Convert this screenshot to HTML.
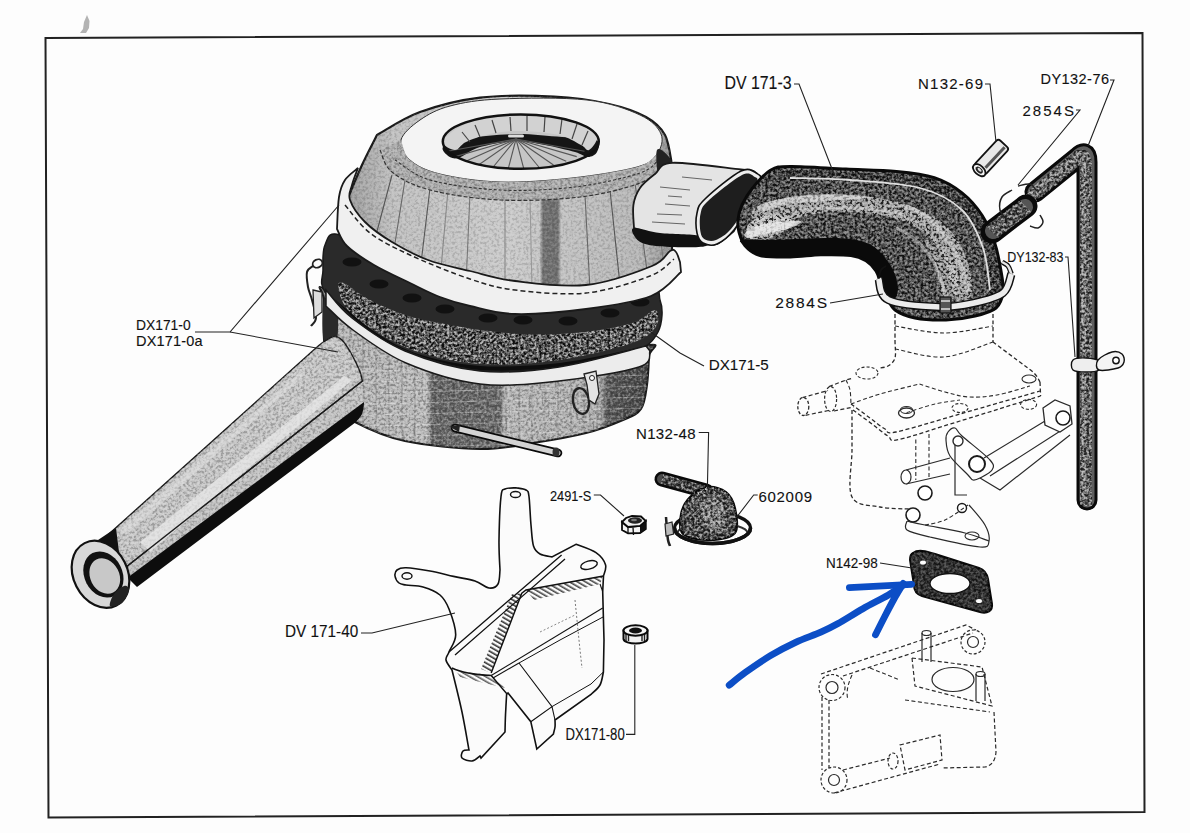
<!DOCTYPE html>
<html><head><meta charset="utf-8"><style>
html,body{margin:0;padding:0;background:#fdfdfd;}
body{width:1190px;height:833px;overflow:hidden;}
svg{display:block;}
text{font-family:"Liberation Sans",sans-serif;fill:#111;stroke:#111;stroke-width:0.12px;}
</style></head><body>
<svg width="1190" height="833" viewBox="0 0 1190 833">
<defs>
<filter id="fB" x="0" y="0" width="1" height="1" color-interpolation-filters="sRGB"><feTurbulence type="fractalNoise" baseFrequency="0.38" numOctaves="2" seed="11"/><feColorMatrix type="matrix" values="0 0 0 0 0  0 0 0 0 0  0 0 0 0 0  5 0 0 0 -2.5"/></filter>
<filter id="fW" x="0" y="0" width="1" height="1" color-interpolation-filters="sRGB"><feTurbulence type="fractalNoise" baseFrequency="0.38" numOctaves="2" seed="11"/><feColorMatrix type="matrix" values="0 0 0 0 1  0 0 0 0 1  0 0 0 0 1  -5 0 0 0 2.5"/></filter>
<pattern id="gB" patternUnits="userSpaceOnUse" width="1190" height="833"><rect width="1190" height="833" filter="url(#fB)"/></pattern>
<pattern id="gW" patternUnits="userSpaceOnUse" width="1190" height="833"><rect width="1190" height="833" filter="url(#fW)"/></pattern>
<pattern id="hat" patternUnits="userSpaceOnUse" width="4" height="4" patternTransform="rotate(-60)"><rect width="4" height="4" fill="#fbfbfb"/><rect width="1.6" height="4" fill="#1a1a1a"/></pattern>
</defs>
<path d="M45.5 38 L1142.5 33 L1144.5 812 L48.5 817.5 Z" fill="none" stroke="#222" stroke-width="2" />
<path d="M80 33 L86 33 L89 28 L89.5 21 L87 15 L84 22 L83 29 Z" fill="#777" opacity="0.55"/>
<linearGradient id="gb" x1="320" y1="0" x2="655" y2="0" gradientUnits="userSpaceOnUse"><stop offset="0" stop-color="#6a6a6a"/><stop offset="0.05" stop-color="#b4b4b4"/><stop offset="0.322" stop-color="#b8b8b8"/><stop offset="0.334" stop-color="#666666"/><stop offset="0.537" stop-color="#6a6a6a"/><stop offset="0.552" stop-color="#b6b6b6"/><stop offset="0.836" stop-color="#acacac"/><stop offset="0.857" stop-color="#585858"/><stop offset="1" stop-color="#464646"/></linearGradient>
<path d="M324 300 C323.7 308.3 323 325.8 324 340 C325 354.2 327 373.7 330 385 C333 396.3 337.8 401.8 342 408 C346.2 414.2 344.5 416.5 355 422 C365.5 427.5 384.2 436.5 405 441 C425.8 445.5 458.7 448.7 480 449 C501.3 449.3 515.3 445.7 533 443 C550.7 440.3 571 436.8 586 433 C601 429.2 613.8 424 623 420 C632.2 416 637 414.8 641 409 C645 403.2 645.7 393.8 647 385 C648.3 376.2 648.7 362.7 649 356 C649.3 349.3 663.8 343 649 345 C634.2 347 588.2 363.8 560 368 C531.8 372.2 505.8 373 480 370 C454.2 367 430.7 363.3 405 350 C379.3 336.7 339.5 298.3 326 290 C312.5 281.7 324.3 291.7 324 300 Z" fill="url(#gb)" stroke="#1a1a1a" stroke-width="2" />
<clipPath id="cbowl"><path d="M324 300 C323.7 308.3 323 325.8 324 340 C325 354.2 327 373.7 330 385 C333 396.3 337.8 401.8 342 408 C346.2 414.2 344.5 416.5 355 422 C365.5 427.5 384.2 436.5 405 441 C425.8 445.5 458.7 448.7 480 449 C501.3 449.3 515.3 445.7 533 443 C550.7 440.3 571 436.8 586 433 C601 429.2 613.8 424 623 420 C632.2 416 637 414.8 641 409 C645 403.2 645.7 393.8 647 385 C648.3 376.2 648.7 362.7 649 356 C649.3 349.3 663.8 343 649 345 C634.2 347 588.2 363.8 560 368 C531.8 372.2 505.8 373 480 370 C454.2 367 430.7 363.3 405 350 C379.3 336.7 339.5 298.3 326 290 C312.5 281.7 324.3 291.7 324 300 Z"/></clipPath>
<g clip-path="url(#cbowl)"><line x1="350" y1="300" x2="350" y2="452" stroke="#555" stroke-width="0.8" opacity="0.45"/><line x1="363" y1="300" x2="363" y2="452" stroke="#555" stroke-width="0.8" opacity="0.45"/><line x1="376" y1="300" x2="376" y2="452" stroke="#555" stroke-width="0.8" opacity="0.45"/><line x1="389" y1="300" x2="389" y2="452" stroke="#555" stroke-width="0.8" opacity="0.45"/><line x1="402" y1="300" x2="402" y2="452" stroke="#555" stroke-width="0.8" opacity="0.45"/><line x1="415" y1="300" x2="415" y2="452" stroke="#555" stroke-width="0.8" opacity="0.45"/><line x1="428" y1="300" x2="428" y2="452" stroke="#555" stroke-width="0.8" opacity="0.45"/><line x1="441" y1="300" x2="441" y2="452" stroke="#555" stroke-width="0.8" opacity="0.45"/><line x1="454" y1="300" x2="454" y2="452" stroke="#555" stroke-width="0.8" opacity="0.45"/><line x1="467" y1="300" x2="467" y2="452" stroke="#555" stroke-width="0.8" opacity="0.45"/><line x1="480" y1="300" x2="480" y2="452" stroke="#555" stroke-width="0.8" opacity="0.45"/><line x1="493" y1="300" x2="493" y2="452" stroke="#555" stroke-width="0.8" opacity="0.45"/><line x1="506" y1="300" x2="506" y2="452" stroke="#555" stroke-width="0.8" opacity="0.45"/><line x1="519" y1="300" x2="519" y2="452" stroke="#555" stroke-width="0.8" opacity="0.45"/><line x1="532" y1="300" x2="532" y2="452" stroke="#555" stroke-width="0.8" opacity="0.45"/><line x1="545" y1="300" x2="545" y2="452" stroke="#555" stroke-width="0.8" opacity="0.45"/><line x1="558" y1="300" x2="558" y2="452" stroke="#555" stroke-width="0.8" opacity="0.45"/><line x1="571" y1="300" x2="571" y2="452" stroke="#555" stroke-width="0.8" opacity="0.45"/><line x1="584" y1="300" x2="584" y2="452" stroke="#555" stroke-width="0.8" opacity="0.45"/><line x1="597" y1="300" x2="597" y2="452" stroke="#555" stroke-width="0.8" opacity="0.45"/><line x1="610" y1="300" x2="610" y2="452" stroke="#555" stroke-width="0.8" opacity="0.45"/><line x1="623" y1="300" x2="623" y2="452" stroke="#555" stroke-width="0.8" opacity="0.45"/><line x1="636" y1="300" x2="636" y2="452" stroke="#555" stroke-width="0.8" opacity="0.45"/><line x1="330" y1="372" x2="650" y2="364" stroke="#eee" stroke-width="1" opacity="0.35"/><line x1="330" y1="383" x2="650" y2="375" stroke="#eee" stroke-width="1" opacity="0.35"/><line x1="330" y1="394" x2="650" y2="386" stroke="#eee" stroke-width="1" opacity="0.35"/><line x1="330" y1="405" x2="650" y2="397" stroke="#eee" stroke-width="1" opacity="0.35"/><line x1="330" y1="416" x2="650" y2="408" stroke="#eee" stroke-width="1" opacity="0.35"/><line x1="330" y1="427" x2="650" y2="419" stroke="#eee" stroke-width="1" opacity="0.35"/><line x1="330" y1="438" x2="650" y2="430" stroke="#eee" stroke-width="1" opacity="0.35"/><line x1="330" y1="449" x2="650" y2="441" stroke="#eee" stroke-width="1" opacity="0.35"/></g>
<path d="M324 300 C323.7 308.3 323 325.8 324 340 C325 354.2 327 373.7 330 385 C333 396.3 337.8 401.8 342 408 C346.2 414.2 344.5 416.5 355 422 C365.5 427.5 384.2 436.5 405 441 C425.8 445.5 458.7 448.7 480 449 C501.3 449.3 515.3 445.7 533 443 C550.7 440.3 571 436.8 586 433 C601 429.2 613.8 424 623 420 C632.2 416 637 414.8 641 409 C645 403.2 645.7 393.8 647 385 C648.3 376.2 648.7 362.7 649 356 C649.3 349.3 663.8 343 649 345 C634.2 347 588.2 363.8 560 368 C531.8 372.2 505.8 373 480 370 C454.2 367 430.7 363.3 405 350 C379.3 336.7 339.5 298.3 326 290 C312.5 281.7 324.3 291.7 324 300 Z" fill="url(#gB)" opacity="0.25"/>
<path d="M324 300 C323.7 308.3 323 325.8 324 340 C325 354.2 327 373.7 330 385 C333 396.3 337.8 401.8 342 408 C346.2 414.2 344.5 416.5 355 422 C365.5 427.5 384.2 436.5 405 441 C425.8 445.5 458.7 448.7 480 449 C501.3 449.3 515.3 445.7 533 443 C550.7 440.3 571 436.8 586 433 C601 429.2 613.8 424 623 420 C632.2 416 637 414.8 641 409 C645 403.2 645.7 393.8 647 385 C648.3 376.2 648.7 362.7 649 356 C649.3 349.3 663.8 343 649 345 C634.2 347 588.2 363.8 560 368 C531.8 372.2 505.8 373 480 370 C454.2 367 430.7 363.3 405 350 C379.3 336.7 339.5 298.3 326 290 C312.5 281.7 324.3 291.7 324 300 Z" fill="url(#gW)" opacity="0.25"/>
<path d="M324 300 C326 293.5 333.7 301 336 306 C338.3 311 338.3 323.5 338 330 C337.7 336.5 336.3 342.5 334 345 C331.7 347.5 325.7 352.5 324 345 C322.3 337.5 322 306.5 324 300 Z" fill="#2a2a2a" stroke="none" stroke-width="1" />
<path d="M124 574 C164 545 324 429 364 400 L364 404 C363.7 405.7 363.3 411 362 414 C360.7 417 357 420.7 356 422 L137 587 Z" fill="#0d0d0d" stroke="none" stroke-width="1" />
<path d="M121 571 L362 381 L364 402 L127 578 Z" fill="#c0c0c0" stroke="none" stroke-width="1" />
<path d="M121 571 L362 381 L364 402 L127 578 Z" fill="url(#gB)" opacity="0.2"/>
<path d="M121 571 L362 381 L364 402 L127 578 Z" fill="url(#gW)" opacity="0.2"/>
<path d="M100 542 C135.6 510.1 277.8 382.2 313.4 350.3 L313.4 350.3 C314.8 349.1 318.6 345.3 322 343 C325.4 340.7 330.2 337.1 333.6 336.6 C337 336.1 339.3 337.5 342.2 340.2 C345.1 342.9 348 348 350.9 353 C353.8 358 357.6 365.7 359.5 370.4 C361.4 375.1 361.9 379.2 362.4 381 L121 571 Z" fill="#c4c4c4" stroke="#1a1a1a" stroke-width="1.4" />
<path d="M100 542 C135.6 510.1 277.8 382.2 313.4 350.3 L313.4 350.3 C314.8 349.1 318.6 345.3 322 343 C325.4 340.7 330.2 337.1 333.6 336.6 C337 336.1 339.3 337.5 342.2 340.2 C345.1 342.9 348 348 350.9 353 C353.8 358 357.6 365.7 359.5 370.4 C361.4 375.1 361.9 379.2 362.4 381 L121 571 Z" fill="url(#gB)" opacity="0.2"/>
<path d="M100 542 C135.6 510.1 277.8 382.2 313.4 350.3 L313.4 350.3 C314.8 349.1 318.6 345.3 322 343 C325.4 340.7 330.2 337.1 333.6 336.6 C337 336.1 339.3 337.5 342.2 340.2 C345.1 342.9 348 348 350.9 353 C353.8 358 357.6 365.7 359.5 370.4 C361.4 375.1 361.9 379.2 362.4 381 L121 571 Z" fill="url(#gW)" opacity="0.25"/>
<path d="M140 542 L344 376 L352 380 L150 552 Z" fill="#e8e8e8" stroke="none" stroke-width="1" opacity="0.75"/>
<path d="M120 530 L300 372 L305 375 L126 535 Z" fill="#e4e4e4" stroke="none" stroke-width="1" opacity="0.5"/>
<path d="M121 571 L362.4 381" fill="none" stroke="#1a1a1a" stroke-width="1.3" />
<path d="M98 540 L116 528 L120 560 L108 566 Z" fill="#111" stroke="none" stroke-width="1" />
<g transform="translate(100.5 574.3) rotate(-27)"><ellipse rx="27" ry="35" fill="#d8d8d8" stroke="#111" stroke-width="2.2"/><ellipse cx="2.5" cy="1.5" rx="19" ry="24" fill="#111"/><ellipse cx="3" cy="3.5" rx="14.5" ry="18.5" fill="#c8c8c8"/></g>
<path d="M114 594 C116.3 590.7 121.5 586.7 124 586 C126.5 585.3 129.3 587.2 129 590 C128.7 592.8 125.2 600.3 122 603 C118.8 605.7 111.3 607.5 110 606 C108.7 604.5 111.7 597.3 114 594 Z" fill="#222" stroke="none" stroke-width="1" />
<path d="M325 245 C322.2 250.8 323 262.2 323 270 C323 277.8 318.8 282.8 325 292 C331.2 301.2 346.7 315 360 325 C373.3 335 385 344.3 405 352 C425 359.7 454.3 368.5 480 371 C505.7 373.5 535.7 369.7 559 367 C582.3 364.3 605.5 358.5 620 355 C634.5 351.5 639.7 349.8 646 346 C652.3 342.2 655.3 337.2 658 332 C660.7 326.8 661.7 320.3 662 315 C662.3 309.7 661.7 304.5 660 300 C658.3 295.5 662 288 652 288 C642 288 625.3 298 600 300 C574.7 302 533.3 305 500 300 C466.7 295 426.7 280.8 400 270 C373.3 259.2 352.5 239.2 340 235 C327.5 230.8 327.8 239.2 325 245 Z" fill="#2a2a2a" stroke="#1a1a1a" stroke-width="1.5" />
<path d="M340 282 C344.2 281 359.2 294.5 370 300 C380.8 305.5 393.3 311.2 405 315 C416.7 318.8 427.5 320.5 440 323 C452.5 325.5 466.7 328.2 480 330 C493.3 331.8 506.7 333.3 520 334 C533.3 334.7 546.7 334.7 560 334 C573.3 333.3 587.5 332 600 330 C612.5 328 625.8 325.3 635 322 C644.2 318.7 651.3 309.5 655 310 C658.7 310.5 659.5 320 657 325 C654.5 330 649.5 335.5 640 340 C630.5 344.5 613.3 348.7 600 352 C586.7 355.3 573.3 358 560 360 C546.7 362 533.3 363.3 520 364 C506.7 364.7 493.3 365 480 364 C466.7 363 452.5 360.8 440 358 C427.5 355.2 416.7 352 405 347 C393.3 342 380 334.8 370 328 C360 321.2 350 313.7 345 306 C340 298.3 335.8 283 340 282 Z" fill="#5a5a5a" stroke="none" stroke-width="1" />
<path d="M340 282 C344.2 281 359.2 294.5 370 300 C380.8 305.5 393.3 311.2 405 315 C416.7 318.8 427.5 320.5 440 323 C452.5 325.5 466.7 328.2 480 330 C493.3 331.8 506.7 333.3 520 334 C533.3 334.7 546.7 334.7 560 334 C573.3 333.3 587.5 332 600 330 C612.5 328 625.8 325.3 635 322 C644.2 318.7 651.3 309.5 655 310 C658.7 310.5 659.5 320 657 325 C654.5 330 649.5 335.5 640 340 C630.5 344.5 613.3 348.7 600 352 C586.7 355.3 573.3 358 560 360 C546.7 362 533.3 363.3 520 364 C506.7 364.7 493.3 365 480 364 C466.7 363 452.5 360.8 440 358 C427.5 355.2 416.7 352 405 347 C393.3 342 380 334.8 370 328 C360 321.2 350 313.7 345 306 C340 298.3 335.8 283 340 282 Z" fill="url(#gB)" opacity="0.85"/>
<path d="M340 282 C344.2 281 359.2 294.5 370 300 C380.8 305.5 393.3 311.2 405 315 C416.7 318.8 427.5 320.5 440 323 C452.5 325.5 466.7 328.2 480 330 C493.3 331.8 506.7 333.3 520 334 C533.3 334.7 546.7 334.7 560 334 C573.3 333.3 587.5 332 600 330 C612.5 328 625.8 325.3 635 322 C644.2 318.7 651.3 309.5 655 310 C658.7 310.5 659.5 320 657 325 C654.5 330 649.5 335.5 640 340 C630.5 344.5 613.3 348.7 600 352 C586.7 355.3 573.3 358 560 360 C546.7 362 533.3 363.3 520 364 C506.7 364.7 493.3 365 480 364 C466.7 363 452.5 360.8 440 358 C427.5 355.2 416.7 352 405 347 C393.3 342 380 334.8 370 328 C360 321.2 350 313.7 345 306 C340 298.3 335.8 283 340 282 Z" fill="url(#gW)" opacity="0.55"/>
<ellipse cx="352" cy="262" rx="9.5" ry="4.5" fill="#111"/>
<ellipse cx="379" cy="284" rx="9.5" ry="4.5" fill="#111"/>
<ellipse cx="412" cy="298" rx="9.5" ry="4.5" fill="#111"/>
<ellipse cx="445" cy="309" rx="9.5" ry="4.5" fill="#111"/>
<ellipse cx="488" cy="318" rx="9.5" ry="4.5" fill="#111"/>
<ellipse cx="523" cy="320" rx="9.5" ry="4.5" fill="#111"/>
<ellipse cx="568" cy="321" rx="9.5" ry="4.5" fill="#111"/>
<ellipse cx="610" cy="313" rx="9.5" ry="4.5" fill="#111"/>
<ellipse cx="640" cy="302" rx="9.5" ry="4.5" fill="#111"/>
<path d="M335 300 C339.2 304 358.3 323.7 370 332 C381.7 340.3 393.3 345 405 350 C416.7 355 427.5 358.7 440 362 C452.5 365.3 466.7 368.7 480 370 C493.3 371.3 506.7 370.5 520 370 C533.3 369.5 546.7 368.7 560 367 C573.3 365.3 586.7 363.2 600 360 C613.3 356.8 632.3 350.3 640 348 C647.7 345.7 652.7 344.7 646 346 C639.3 347.3 614.3 353.2 600 356 C585.7 358.8 573.3 361.3 560 363 C546.7 364.7 533.3 365.5 520 366 C506.7 366.5 493.3 367 480 366 C466.7 365 452.5 362.8 440 360 C427.5 357.2 416.3 354 405 349 C393.7 344 382 336.8 372 330 C362 323.2 351.2 313 345 308 C338.8 303 330.8 296 335 300 Z" fill="#0d0d0d" stroke="none" stroke-width="1" />
<path d="M326 290 C330.3 294.7 338.8 307.8 352 318 C365.2 328.2 383.7 342.2 405 351 C426.3 359.8 454.3 368.3 480 371 C505.7 373.7 531.3 371.2 559 367 C586.7 362.8 631.5 349.5 646 346 L650 351 C648.2 353.7 654.2 362 639 367 C623.8 372 585.5 378.2 559 381 C532.5 383.8 505.5 387 480 384 C454.5 381 427.2 372 406 363 C384.8 354 366.3 339.5 353 330 C339.7 320.5 330.5 310 326 306 Z" fill="#ececec" stroke="#1a1a1a" stroke-width="1.5" />
<linearGradient id="gc" x1="345" y1="0" x2="675" y2="0" gradientUnits="userSpaceOnUse"><stop offset="0" stop-color="#9a9a9a"/><stop offset="0.15" stop-color="#c0c0c0"/><stop offset="0.5" stop-color="#cacaca"/><stop offset="0.59" stop-color="#c4c4c4"/><stop offset="0.6" stop-color="#707070"/><stop offset="0.645" stop-color="#707070"/><stop offset="0.655" stop-color="#c2c2c2"/><stop offset="0.9" stop-color="#b6b6b6"/><stop offset="1" stop-color="#8e8e8e"/></linearGradient>
<path d="M377 135 C374.5 140 366.8 154.5 362 165 C357.2 175.5 350.3 192.5 348 198 L347 230 C359.2 238.3 392 268.3 420 280 C448 291.7 485 296.7 515 300 C545 303.3 573.8 306.3 600 300 C626.2 293.7 660 268.3 672 262 L672 165 C670.8 160 669.3 143 665 135 C660.7 127 655.3 122.2 646 117 C636.7 111.8 624.3 107.4 609 104 C593.7 100.6 575.5 97.7 554 96.6 C532.5 95.5 502.3 95 480 97.6 C457.7 100.2 437.2 105.8 420 112 C402.8 118.2 384.2 131.2 377 135 Z" fill="url(#gc)" stroke="#1a1a1a" stroke-width="2.2" />
<path d="M377 135 C374.5 140 366.8 154.5 362 165 C357.2 175.5 350.3 192.5 348 198 L347 230 C359.2 238.3 392 268.3 420 280 C448 291.7 485 296.7 515 300 C545 303.3 573.8 306.3 600 300 C626.2 293.7 660 268.3 672 262 L672 165 C670.8 160 669.3 143 665 135 C660.7 127 655.3 122.2 646 117 C636.7 111.8 624.3 107.4 609 104 C593.7 100.6 575.5 97.7 554 96.6 C532.5 95.5 502.3 95 480 97.6 C457.7 100.2 437.2 105.8 420 112 C402.8 118.2 384.2 131.2 377 135 Z" fill="url(#gB)" opacity="0.12"/>
<path d="M377 135 C374.5 140 366.8 154.5 362 165 C357.2 175.5 350.3 192.5 348 198 L347 230 C359.2 238.3 392 268.3 420 280 C448 291.7 485 296.7 515 300 C545 303.3 573.8 306.3 600 300 C626.2 293.7 660 268.3 672 262 L672 165 C670.8 160 669.3 143 665 135 C660.7 127 655.3 122.2 646 117 C636.7 111.8 624.3 107.4 609 104 C593.7 100.6 575.5 97.7 554 96.6 C532.5 95.5 502.3 95 480 97.6 C457.7 100.2 437.2 105.8 420 112 C402.8 118.2 384.2 131.2 377 135 Z" fill="url(#gW)" opacity="0.12"/>
<clipPath id="ccov"><path d="M377 135 C374.5 140 366.8 154.5 362 165 C357.2 175.5 350.3 192.5 348 198 L347 230 C359.2 238.3 392 268.3 420 280 C448 291.7 485 296.7 515 300 C545 303.3 573.8 306.3 600 300 C626.2 293.7 660 268.3 672 262 L672 165 C670.8 160 669.3 143 665 135 C660.7 127 655.3 122.2 646 117 C636.7 111.8 624.3 107.4 609 104 C593.7 100.6 575.5 97.7 554 96.6 C532.5 95.5 502.3 95 480 97.6 C457.7 100.2 437.2 105.8 420 112 C402.8 118.2 384.2 131.2 377 135 Z"/></clipPath>
<g clip-path="url(#ccov)"><line x1="392" y1="175" x2="372" y2="250" stroke="#555" stroke-width="1.1"/><line x1="405" y1="180" x2="392" y2="262" stroke="#666" stroke-width="1.1"/><line x1="430" y1="188" x2="420" y2="272" stroke="#555" stroke-width="1.1"/><line x1="470" y1="193" x2="466" y2="285" stroke="#777" stroke-width="1.1"/><line x1="505" y1="196" x2="505" y2="290" stroke="#888" stroke-width="1.1"/><line x1="585" y1="195" x2="590" y2="290" stroke="#666" stroke-width="1.1"/><line x1="610" y1="190" x2="620" y2="285" stroke="#555" stroke-width="1.1"/><line x1="635" y1="183" x2="648" y2="278" stroke="#666" stroke-width="1.1"/><line x1="652" y1="175" x2="664" y2="265" stroke="#777" stroke-width="1.1"/><line x1="448" y1="190" x2="440" y2="280" stroke="#888" stroke-width="1.1"/><line x1="530" y1="196" x2="532" y2="290" stroke="#999" stroke-width="1.1"/></g>
<path d="M401 140 C402.7 133.3 411.8 125.7 420 120 C428.2 114.3 436.7 109.5 450 106 C463.3 102.5 477.2 100 500 99 C522.8 98 563.7 97.3 587 100 C610.3 102.7 627.7 109.3 640 115 C652.3 120.7 658.2 127.5 661 134 C663.8 140.5 661 148.5 657 154 C653 159.5 651.2 163 637 167 C622.8 171 594.8 175.5 572 178 C549.2 180.5 522 182.7 500 182 C478 181.3 455 177.7 440 174 C425 170.3 416.5 165.7 410 160 C403.5 154.3 399.3 146.7 401 140 Z" fill="#f4f4f4" stroke="#333" stroke-width="1" />
<path d="M380 150 C382 153.7 383.7 165.3 392 172 C400.3 178.7 412 185.3 430 190 C448 194.7 475 198.8 500 200 C525 201.2 556.7 199.8 580 197 C603.3 194.2 625.8 188.3 640 183 C654.2 177.7 660.8 168 665 165 L657 154 C653.7 156.2 651.2 163 637 167 C622.8 171 594.8 175.5 572 178 C549.2 180.5 522 182.7 500 182 C478 181.3 455 177.7 440 174 C425 170.3 416.5 165.7 410 160 C403.5 154.3 402.5 143.3 401 140 Z" fill="#acacac" stroke="none" stroke-width="1" />
<path d="M380 150 C382 153.7 383.7 165.3 392 172 C400.3 178.7 412 185.3 430 190 C448 194.7 475 198.8 500 200 C525 201.2 556.7 199.8 580 197 C603.3 194.2 625.8 188.3 640 183 C654.2 177.7 660.8 168 665 165 L657 154 C653.7 156.2 651.2 163 637 167 C622.8 171 594.8 175.5 572 178 C549.2 180.5 522 182.7 500 182 C478 181.3 455 177.7 440 174 C425 170.3 416.5 165.7 410 160 C403.5 154.3 402.5 143.3 401 140 Z" fill="url(#gB)" opacity="0.2"/>
<path d="M380 150 C382 153.7 383.7 165.3 392 172 C400.3 178.7 412 185.3 430 190 C448 194.7 475 198.8 500 200 C525 201.2 556.7 199.8 580 197 C603.3 194.2 625.8 188.3 640 183 C654.2 177.7 660.8 168 665 165 L657 154 C653.7 156.2 651.2 163 637 167 C622.8 171 594.8 175.5 572 178 C549.2 180.5 522 182.7 500 182 C478 181.3 455 177.7 440 174 C425 170.3 416.5 165.7 410 160 C403.5 154.3 402.5 143.3 401 140 Z" fill="url(#gW)" opacity="0.2"/>
<path d="M395 160 C400.8 163.3 412.5 175 430 180 C447.5 185 475.8 188.8 500 190 C524.2 191.2 551.7 189.8 575 187 C598.3 184.2 625.8 177.8 640 173 C654.2 168.2 656.7 160.5 660 158" fill="none" stroke="#333" stroke-width="1.1" stroke-dasharray="3 2"/>
<path d="M380 150 C382 153.7 383.7 165.3 392 172 C400.3 178.7 412 185.3 430 190 C448 194.7 475 198.8 500 200 C525 201.2 556.7 199.8 580 197 C603.3 194.2 625.8 188.3 640 183 C654.2 177.7 660.8 168 665 165" fill="none" stroke="#333" stroke-width="1.2" stroke-dasharray="4 2"/>
<ellipse cx="520.8" cy="141.6" rx="78" ry="27.2" fill="#c6c6c6"/>
<path d="M444 146 C447.8 143.2 458 140 470 138 C482 136 500.7 134.2 516 134 C531.3 133.8 548.7 136 562 137 C575.3 138 590.2 137.5 596 140 C601.8 142.5 598.3 149.2 597 152 C595.7 154.8 591.7 157 588 157 C584.3 157 582.2 154 575 152 C567.8 150 554.8 146.8 545 145 C535.2 143.2 526.8 140.7 516 141 C505.2 141.3 489.7 144.2 480 147 C470.3 149.8 463.5 156.7 458 158 C452.5 159.3 449.3 157 447 155 C444.7 153 440.2 148.8 444 146 Z" fill="#151515" stroke="none" stroke-width="1" />
<line x1="516" y1="139" x2="447.5" y2="151.2" stroke="#555" stroke-width="1.1"/>
<line x1="516" y1="139" x2="455.3" y2="156.6" stroke="#555" stroke-width="1.1"/>
<line x1="516" y1="139" x2="465.8" y2="161.3" stroke="#555" stroke-width="1.1"/>
<line x1="516" y1="139" x2="478.5" y2="165.0" stroke="#555" stroke-width="1.1"/>
<line x1="516" y1="139" x2="492.8" y2="167.5" stroke="#555" stroke-width="1.1"/>
<line x1="516" y1="139" x2="508.2" y2="168.8" stroke="#555" stroke-width="1.1"/>
<line x1="516" y1="139" x2="523.8" y2="168.8" stroke="#555" stroke-width="1.1"/>
<line x1="516" y1="139" x2="539.2" y2="167.5" stroke="#555" stroke-width="1.1"/>
<line x1="516" y1="139" x2="553.5" y2="165.0" stroke="#555" stroke-width="1.1"/>
<line x1="516" y1="139" x2="566.2" y2="161.3" stroke="#555" stroke-width="1.1"/>
<line x1="516" y1="139" x2="576.7" y2="156.6" stroke="#555" stroke-width="1.1"/>
<line x1="516" y1="139" x2="584.5" y2="151.2" stroke="#555" stroke-width="1.1"/>
<path d="M443 142 C443.5 138.3 451 132 458 128 C465 124 474.5 120.2 485 118 C495.5 115.8 508.8 114.7 521 114.5 C533.2 114.3 547.3 115.2 558 117 C568.7 118.8 578.5 121.7 585 125 C591.5 128.3 596.3 132.8 597 137 C597.7 141.2 591.7 148.7 589 150 C586.3 151.3 586 147.5 581 145 C576 142.5 569 137.3 559 135 C549 132.7 532.5 131.2 521 131 C509.5 130.8 499.2 132.2 490 134 C480.8 135.8 471.8 139.3 466 142 C460.2 144.7 458.8 150 455 150 C451.2 150 442.5 145.7 443 142 Z" fill="#d2d2d2" stroke="none" stroke-width="1" />
<line x1="462" y1="132" x2="470" y2="142" stroke="#444" stroke-width="1.2"/>
<line x1="475" y1="125" x2="480" y2="137" stroke="#444" stroke-width="1.2"/>
<line x1="492" y1="120" x2="496" y2="133" stroke="#444" stroke-width="1.2"/>
<line x1="510" y1="117" x2="511" y2="131" stroke="#444" stroke-width="1.2"/>
<line x1="527" y1="116" x2="527" y2="131" stroke="#444" stroke-width="1.2"/>
<line x1="545" y1="117" x2="544" y2="132" stroke="#444" stroke-width="1.2"/>
<line x1="562" y1="119" x2="560" y2="134" stroke="#444" stroke-width="1.2"/>
<line x1="577" y1="124" x2="572" y2="139" stroke="#444" stroke-width="1.2"/>
<line x1="588" y1="131" x2="582" y2="145" stroke="#444" stroke-width="1.2"/>
<ellipse cx="520.8" cy="141.6" rx="78" ry="27.2" fill="none" stroke="#111" stroke-width="2.5"/>
<rect x="508" y="134.5" width="16" height="3" rx="1.5" fill="#ddd"/>
<path d="M358 168 C355.8 170 348.2 175.2 345 180 C341.8 184.8 340.3 188.8 339 197 C337.7 205.2 337.3 223.7 337 229 L337 229 C338.7 231.8 340.8 240 347 246 C353.2 252 363.5 258.8 374 265 C384.5 271.2 399 277.7 410 283 C421 288.3 430 293.2 440 297 C450 300.8 457.5 303.2 470 306 C482.5 308.8 495.7 313.5 515 314 C534.3 314.5 563.3 312 586 309 C608.7 306 635.2 302.2 651 296 C666.8 289.8 676 276 681 272 L680 262 C679.3 260.3 677.7 253.8 676 252 C674.3 250.2 674 248.7 670 251 C666 253.3 666 260.3 652 266 C638 271.7 608.8 282.5 586 285 C563.2 287.5 534.3 283.3 515 281 C495.7 278.7 484.5 274.5 470 271 C455.5 267.5 441 264.8 428 260 C415 255.2 402.5 248.3 392 242 C381.5 235.7 372 229 365 222 C358 215 352.2 206.2 350 200 C347.8 193.8 350.7 190.3 352 185 C353.3 179.7 357 170.8 358 168 Z" fill="#f0f0f0" stroke="#1a1a1a" stroke-width="1.8" />
<path d="M345 205 C349.2 209.7 359.2 224.7 370 233 C380.8 241.3 393.3 247.3 410 255 C426.7 262.7 452.5 273.2 470 279 C487.5 284.8 495.7 287.7 515 290 C534.3 292.3 563.5 295.3 586 293 C608.5 290.7 635.3 281.7 650 276 C664.7 270.3 670 261.8 674 259" fill="none" stroke="#222" stroke-width="1.5" stroke-dasharray="5 3"/>
<path d="M657 150 C659 146 669.5 155.3 672 162 C674.5 168.7 674 186 672 190 C670 194 662.5 192.7 660 186 C657.5 179.3 655 154 657 150 Z" fill="#222" stroke="none" stroke-width="1" />
<path d="M634 228 C633.9 224.2 632.4 211.7 633.4 205 C634.4 198.3 636.4 193.2 640 188 C643.6 182.8 649.6 178.2 655 174 C660.4 169.8 658.1 163.6 672.4 162.8 C686.7 162.1 727.3 168.1 741 169.5 C754.7 170.9 751.3 170.1 754.4 171.5 C757.5 172.9 758.9 177.1 759.8 178.2 L734 231 C731.2 233.2 722.2 242 717 244 C711.8 246 712.5 244.3 703 243 C693.5 241.7 671.5 238.5 660 236 C648.5 233.5 638.3 229.3 634 228 Z" fill="#e4e4e4" stroke="#1a1a1a" stroke-width="1.8" />
<path d="M634 228 C638.2 227.3 649 231.7 660 233 C671 234.3 692.3 233.8 700 236 C707.7 238.2 711 244.2 706 246 C701 247.8 680.2 247.3 670 247 C659.8 246.7 650.8 245.7 645 244 C639.2 242.3 636.8 239.7 635 237 C633.2 234.3 629.8 228.7 634 228 Z" fill="#111" stroke="none" stroke-width="1" />
<line x1="682" y1="177" x2="712" y2="180" stroke="#666" stroke-width="1"/>
<line x1="660" y1="187" x2="690" y2="190" stroke="#666" stroke-width="1"/>
<line x1="668" y1="196" x2="682" y2="197" stroke="#666" stroke-width="1"/>
<line x1="665" y1="204" x2="690" y2="206" stroke="#666" stroke-width="1"/>
<line x1="657" y1="214" x2="682" y2="215" stroke="#666" stroke-width="1"/>
<line x1="652" y1="222" x2="685" y2="224" stroke="#666" stroke-width="1"/>
<path d="M697 213 C698.3 207.3 697.7 206 705 199 C712.3 192 732.3 175.2 741 171 C749.7 166.8 753.8 171.8 757 173.5 C760.2 175.2 761.7 175.9 760.5 181 C759.3 186.1 754.4 195.8 750 204 C745.6 212.2 739.5 223.3 734 230 C728.5 236.7 722.2 241.8 717 244 C711.8 246.2 706.3 244.8 703 243 C699.7 241.2 698 238 697 233 C696 228 695.7 218.7 697 213 Z" fill="#eeeeee" stroke="#111" stroke-width="1.6" />
<path d="M700.5 214 C701.8 208.8 701.1 207.5 708 201 C714.9 194.5 734.2 179 742 175 C749.8 171 752.5 175.7 755 177 C757.5 178.3 758.3 178.5 757 183 C755.7 187.5 751.3 196.3 747 204 C742.7 211.7 736.2 223 731 229 C725.8 235 720.3 238.2 716 240 C711.7 241.8 707.6 240.8 705 239.5 C702.4 238.2 701.2 236.2 700.5 232 C699.8 227.8 699.2 219.2 700.5 214 Z" fill="#1e1e1e" stroke="none" stroke-width="1" />
<path d="M895 314 C895 318.3 895 332.7 895 340 C895 347.3 896.2 353.7 895 358 C893.8 362.3 890.7 364.3 888 366 C885.3 367.7 880.5 367.7 879 368" fill="none" stroke="#2a2a2a" stroke-width="1.3" stroke-dasharray="4 2.5"/>
<path d="M993 314 C993 318.7 993 337.3 993 342" fill="none" stroke="#2a2a2a" stroke-width="1.3" stroke-dasharray="4 2.5"/>
<path d="M895 326 C903.2 327.2 927.7 333 944 333 C960.3 333 984.8 327.2 993 326" fill="none" stroke="#2a2a2a" stroke-width="1.1" stroke-dasharray="4 2.5"/>
<path d="M895 349 C903.2 350.3 927.7 358.2 944 357 C960.3 355.8 984.8 344.5 993 342" fill="none" stroke="#2a2a2a" stroke-width="1.1" stroke-dasharray="4 2.5"/>
<path d="M993 342 C997 345 1010.2 354.8 1017 360 C1023.8 365.2 1030.2 369.3 1034 373 C1037.8 376.7 1039 380.5 1040 382" fill="none" stroke="#2a2a2a" stroke-width="1.3" stroke-dasharray="4 2.5"/>
<path d="M1040 382 L1040.6 396" fill="none" stroke="#2a2a2a" stroke-width="1.3" stroke-dasharray="4 2.5"/>
<path d="M851 404 C854.2 406.3 864.3 413.8 870 418 C875.7 422.2 880.7 426.7 885 429 C889.3 431.3 883.5 434.5 896 432 C908.5 429.5 936 420.8 960 414 C984 407.2 1026.7 394.8 1040 391" fill="none" stroke="#2a2a2a" stroke-width="1.3" stroke-dasharray="4 2.5"/>
<path d="M853 410 C856.2 412.3 866.2 419.7 872 424 C877.8 428.3 883.5 433.4 888 436 C892.5 438.6 887 442 899 439.5 C911 437 936.4 428.2 960 421 C983.6 413.8 1027.2 400.2 1040.6 396" fill="none" stroke="#2a2a2a" stroke-width="1.3" stroke-dasharray="4 2.5"/>
<path d="M851 404 C855.8 402.3 868.6 397.3 880 394 C891.4 390.7 912.9 385.7 919.5 384" fill="none" stroke="#2a2a2a" stroke-width="1.1" stroke-dasharray="4 2.5"/>
<path d="M919.5 384 C923.8 385.3 936.8 389.8 945 392 C953.2 394.2 960.3 396.5 969 397 C977.7 397.5 986.8 396.8 997 395 C1007.2 393.2 1024.5 387.5 1030 386" fill="none" stroke="#2a2a2a" stroke-width="1.1" stroke-dasharray="4 2.5"/>
<path d="M906.5 412.7 C911.2 411.2 926.1 406.1 935 404 C943.9 401.9 955.8 400.7 960 400" fill="none" stroke="#2a2a2a" stroke-width="1.0" stroke-dasharray="4 2.5"/>
<ellipse cx="803.3" cy="406.5" rx="5.5" ry="9" fill="none" stroke="#2a2a2a" stroke-width="1.3" stroke-dasharray="3 2"/>
<path d="M802.4 397.6 L828 390.5" fill="none" stroke="#2a2a2a" stroke-width="1.2" stroke-dasharray="4 2.5"/>
<path d="M805.5 415.3 L831 410" fill="none" stroke="#2a2a2a" stroke-width="1.2" stroke-dasharray="4 2.5"/>
<ellipse cx="830.6" cy="399" rx="6" ry="12.5" fill="none" stroke="#2a2a2a" stroke-width="1.2" stroke-dasharray="3 2"/>
<path d="M829 386.6 L846 380 L853 378" fill="none" stroke="#2a2a2a" stroke-width="1.2" stroke-dasharray="4 2.5"/>
<path d="M834 411 L853.5 407" fill="none" stroke="#2a2a2a" stroke-width="1.2" stroke-dasharray="4 2.5"/>
<path d="M846 380 C846.7 381.7 849.2 386 850 390 C850.8 394 850.8 401.7 851 404" fill="none" stroke="#2a2a2a" stroke-width="1.1" stroke-dasharray="4 2.5"/>
<ellipse cx="867" cy="373" rx="11" ry="6" fill="none" stroke="#2a2a2a" stroke-width="1.1" stroke-dasharray="3 2"/>
<ellipse cx="906.5" cy="413" rx="8" ry="5" fill="none" stroke="#2a2a2a" stroke-width="1.3"/>
<ellipse cx="906.5" cy="410" rx="6" ry="3.5" fill="none" stroke="#2a2a2a" stroke-width="1.1"/>
<ellipse cx="960" cy="408" rx="8" ry="4.5" fill="none" stroke="#2a2a2a" stroke-width="1.1" stroke-dasharray="3 2"/>
<ellipse cx="1029" cy="379" rx="7" ry="4" fill="none" stroke="#2a2a2a" stroke-width="1.1"/>
<ellipse cx="1028.6" cy="404.4" rx="8" ry="5" fill="none" stroke="#2a2a2a" stroke-width="1.1" stroke-dasharray="3 2"/>
<path d="M852 410 C852 416.7 852 435.5 852 450 C852 464.5 847.3 487.5 852 497 C856.7 506.5 870.3 505 880 507 C889.7 509 905 508.7 910 509" fill="none" stroke="#2a2a2a" stroke-width="1.3" stroke-dasharray="4 2.5"/>
<path d="M915.8 439.5 L915.8 480" fill="none" stroke="#2a2a2a" stroke-width="1.1" stroke-dasharray="4 2.5"/>
<path d="M929 434 L929 478" fill="none" stroke="#2a2a2a" stroke-width="1.1" stroke-dasharray="4 2.5"/>
<path d="M906 470 L950 458" fill="none" stroke="#2a2a2a" stroke-width="1.2" />
<path d="M906 484 L950 474" fill="none" stroke="#2a2a2a" stroke-width="1.2" />
<ellipse cx="906" cy="477" rx="5" ry="7" fill="#fff" stroke="#2a2a2a" stroke-width="1.2"/>
<path d="M948 432 C949.5 430 952.7 427.3 955 428 C957.3 428.7 956.2 430.7 962 436 C967.8 441.3 985 454.3 990 460 C995 465.7 993.7 467 992 470 C990.3 473 983.2 476.3 980 478 C976.8 479.7 975 480.5 973 480 C971 479.5 971.8 479 968 475 C964.2 471 953.7 461.8 950 456 C946.3 450.2 946.3 444 946 440 C945.7 436 946.5 434 948 432 Z" fill="#fdfdfd" stroke="#2a2a2a" stroke-width="1.2" />
<path d="M955 445 L955 495 L967 495" fill="none" stroke="#2a2a2a" stroke-width="1.2" />
<path d="M984 458 L1050 418 L1065 428 L990 476" fill="none" stroke="#2a2a2a" stroke-width="1.2" />
<path d="M980 478 L1000 490 L1070 435" fill="none" stroke="#2a2a2a" stroke-width="1.2" />
<circle cx="958" cy="441" r="5" fill="#fff" stroke="#2a2a2a" stroke-width="1.4"/>
<circle cx="977" cy="464" r="8" fill="#fff" stroke="#1a1a1a" stroke-width="2"/>
<path d="M1043 408 L1055 400 L1070 406 L1072 424 L1060 432 L1045 425 Z" fill="#fdfdfd" stroke="#2a2a2a" stroke-width="1.3" />
<circle cx="1063" cy="418" r="7" fill="#fff" stroke="#1a1a1a" stroke-width="1.6"/>
<circle cx="925" cy="493" r="7" fill="#fff" stroke="#1a1a1a" stroke-width="1.6"/>
<circle cx="913" cy="515" r="7" fill="#fff" stroke="#1a1a1a" stroke-width="1.6"/>
<circle cx="962" cy="508" r="4.5" fill="#fff" stroke="#1a1a1a" stroke-width="1.4"/>
<path d="M907 521 C910 521.7 915.3 523 925 525 C934.7 527 954.3 530.3 965 533 C975.7 535.7 985 539.7 989 541" fill="none" stroke="#2a2a2a" stroke-width="1.2" />
<path d="M969 505 C971.7 508.3 981.7 519 985 525 C988.3 531 989.8 537.3 989 541 C988.2 544.7 989.8 547.7 980 547 C970.2 546.3 942.2 539.8 930 537 C917.8 534.2 910.8 532.7 907 530 C903.2 527.3 907 522.5 907 521" fill="none" stroke="#2a2a2a" stroke-width="1.2" />
<path d="M925 525 C928.3 524.2 937.8 523.3 945 520 C952.2 516.7 964.2 507.5 968 505" fill="none" stroke="#2a2a2a" stroke-width="1.1" stroke-dasharray="4 2.5"/>
<ellipse cx="972" cy="536" rx="7" ry="4" fill="none" stroke="#2a2a2a" stroke-width="1.1"/>
<path d="M752.8 187.8 C757.5 182 764.1 173.8 770.4 170.2 C776.7 166.6 778 166.6 790.6 166.4 C803.2 166.2 828.4 168.2 846 169 C863.6 169.8 881.8 170 896.5 171.4 C911.2 172.8 923.4 174.1 934.3 177.7 C945.2 181.3 954 186.6 962 192.9 C970 199.2 976.7 207.1 982.2 215.5 C987.7 223.9 991.7 234.1 994.8 243.3 C997.9 252.6 999.6 262.9 1001 271 C1002.4 279.1 1003.8 285.8 1003 292 C1002.2 298.2 1000.7 304 996 308 C991.3 312 983.3 314 975 316 C966.7 318 956 319.7 946 320 C936 320.3 923.5 319.7 915 318 C906.5 316.3 899.7 313.5 895 310 C890.3 306.5 889.3 301.3 887 297 C884.7 292.7 882.8 288.3 881 284 C879.2 279.7 878.5 274.9 876 271 C873.5 267.1 870.2 263.4 866 260.8 C861.8 258.2 858.5 256.5 851 255.5 C843.5 254.5 830.9 254.6 820.8 254.8 C810.7 255.1 800.6 256.9 790.5 257 C780.4 257.1 767.6 257.4 760 255.5 C752.4 253.6 748.5 249.6 745 245.7 C741.5 241.8 740.2 236.3 739 232 C737.8 227.7 737.5 224.5 738 220 C738.5 215.5 739.5 210.4 742 205 C744.5 199.6 748.1 193.6 752.8 187.8 Z" fill="#525252" stroke="none" stroke-width="1" />
<path d="M760 180 C760 178.3 775.7 171.3 790 170 C804.3 168.7 828.3 171.2 846 172 C863.7 172.8 881.3 173.5 896 175 C910.7 176.5 923 177.5 934 181 C945 184.5 954 189.8 962 196 C970 202.2 976.5 209.7 982 218 C987.5 226.3 992 236.5 995 246 C998 255.5 999.7 266 1000 275 C1000.3 284 998.7 295.8 997 300 C995.3 304.2 991.2 304.2 990 300 C988.8 295.8 990.8 283.7 990 275 C989.2 266.3 988 256.8 985 248 C982 239.2 977 229.5 972 222 C967 214.5 962 208.3 955 203 C948 197.7 939.8 193.2 930 190 C920.2 186.8 910 185.7 896 184 C882 182.3 863.7 180.7 846 180 C828.3 179.3 804.3 180 790 180 C775.7 180 760 181.7 760 180 Z" fill="#3c3c3c" stroke="none" stroke-width="1" />
<path d="M752 212 C754.5 207 763.7 202.8 775 200 C786.3 197.2 804.2 195.5 820 195 C835.8 194.5 855 195.2 870 197 C885 198.8 897.5 201.3 910 206 C922.5 210.7 935.8 216.8 945 225 C954.2 233.2 960.5 244.2 965 255 C969.5 265.8 972.8 281.7 972 290 C971.2 298.3 963.7 306.7 960 305 C956.3 303.3 953.3 289.2 950 280 C946.7 270.8 945.3 258.7 940 250 C934.7 241.3 928 233.8 918 228 C908 222.2 894.7 217.7 880 215 C865.3 212.3 845 211.2 830 212 C815 212.8 801.7 217 790 220 C778.3 223 766.3 231.3 760 230 C753.7 228.7 749.5 217 752 212 Z" fill="#a8a8a8" stroke="none" stroke-width="1" opacity="0.9"/>
<path d="M748 225 C751.3 220.8 762.2 215.5 770 215 C777.8 214.5 795 218.2 795 222 C795 225.8 777.5 235 770 238 C762.5 241 753.7 242.2 750 240 C746.3 237.8 744.7 229.2 748 225 Z" fill="#c8c8c8" stroke="none" stroke-width="1" opacity="0.8"/>
<path d="M925 240 C926.7 238.3 939.5 245.3 945 252 C950.5 258.7 956.8 272 958 280 C959.2 288 955 298.3 952 300 C949 301.7 942.8 296.3 940 290 C937.2 283.7 937.5 270.3 935 262 C932.5 253.7 923.3 241.7 925 240 Z" fill="#c0c0c0" stroke="none" stroke-width="1" opacity="0.6"/>
<path d="M752.8 187.8 C757.5 182 764.1 173.8 770.4 170.2 C776.7 166.6 778 166.6 790.6 166.4 C803.2 166.2 828.4 168.2 846 169 C863.6 169.8 881.8 170 896.5 171.4 C911.2 172.8 923.4 174.1 934.3 177.7 C945.2 181.3 954 186.6 962 192.9 C970 199.2 976.7 207.1 982.2 215.5 C987.7 223.9 991.7 234.1 994.8 243.3 C997.9 252.6 999.6 262.9 1001 271 C1002.4 279.1 1003.8 285.8 1003 292 C1002.2 298.2 1000.7 304 996 308 C991.3 312 983.3 314 975 316 C966.7 318 956 319.7 946 320 C936 320.3 923.5 319.7 915 318 C906.5 316.3 899.7 313.5 895 310 C890.3 306.5 889.3 301.3 887 297 C884.7 292.7 882.8 288.3 881 284 C879.2 279.7 878.5 274.9 876 271 C873.5 267.1 870.2 263.4 866 260.8 C861.8 258.2 858.5 256.5 851 255.5 C843.5 254.5 830.9 254.6 820.8 254.8 C810.7 255.1 800.6 256.9 790.5 257 C780.4 257.1 767.6 257.4 760 255.5 C752.4 253.6 748.5 249.6 745 245.7 C741.5 241.8 740.2 236.3 739 232 C737.8 227.7 737.5 224.5 738 220 C738.5 215.5 739.5 210.4 742 205 C744.5 199.6 748.1 193.6 752.8 187.8 Z" fill="url(#gB)" opacity="0.8"/>
<path d="M752.8 187.8 C757.5 182 764.1 173.8 770.4 170.2 C776.7 166.6 778 166.6 790.6 166.4 C803.2 166.2 828.4 168.2 846 169 C863.6 169.8 881.8 170 896.5 171.4 C911.2 172.8 923.4 174.1 934.3 177.7 C945.2 181.3 954 186.6 962 192.9 C970 199.2 976.7 207.1 982.2 215.5 C987.7 223.9 991.7 234.1 994.8 243.3 C997.9 252.6 999.6 262.9 1001 271 C1002.4 279.1 1003.8 285.8 1003 292 C1002.2 298.2 1000.7 304 996 308 C991.3 312 983.3 314 975 316 C966.7 318 956 319.7 946 320 C936 320.3 923.5 319.7 915 318 C906.5 316.3 899.7 313.5 895 310 C890.3 306.5 889.3 301.3 887 297 C884.7 292.7 882.8 288.3 881 284 C879.2 279.7 878.5 274.9 876 271 C873.5 267.1 870.2 263.4 866 260.8 C861.8 258.2 858.5 256.5 851 255.5 C843.5 254.5 830.9 254.6 820.8 254.8 C810.7 255.1 800.6 256.9 790.5 257 C780.4 257.1 767.6 257.4 760 255.5 C752.4 253.6 748.5 249.6 745 245.7 C741.5 241.8 740.2 236.3 739 232 C737.8 227.7 737.5 224.5 738 220 C738.5 215.5 739.5 210.4 742 205 C744.5 199.6 748.1 193.6 752.8 187.8 Z" fill="url(#gW)" opacity="0.36"/>
<path d="M746 232 C748.8 229.7 756 225.8 765 224 C774 222.2 795.8 220.3 800 221 C804.2 221.7 795.8 225.8 790 228 C784.2 230.2 772 232.3 765 234 C758 235.7 751.2 238.3 748 238 C744.8 237.7 743.2 234.3 746 232 Z" fill="#f0f0f0" stroke="none" stroke-width="1" opacity="0.75"/>
<path d="M758 206 C762.2 203.7 778 199 790 197 C802 195 816.7 194 830 194 C843.3 194 870 195.8 870 197 C870 198.2 843.3 199.8 830 201 C816.7 202.2 800.8 202.3 790 204 C779.2 205.7 770.3 210.7 765 211 C759.7 211.3 753.8 208.3 758 206 Z" fill="#e8e8e8" stroke="none" stroke-width="1" opacity="0.55"/>
<path d="M905 206 C935 216 960 246 968 292" fill="none" stroke="#e0e0e0" stroke-width="4" opacity="0.5"/>
<path d="M896 228 C921 238 940 262 946 300" fill="none" stroke="#e0e0e0" stroke-width="3" opacity="0.45"/>
<path d="M800 210 C840 205 880 208 905 215" fill="none" stroke="#e0e0e0" stroke-width="3" opacity="0.45"/>
<path d="M742 239.7 C747 238.7 759.3 240 775 239.7 C790.7 239.4 820.8 237.5 836 238 C851.2 238.5 858.5 240.2 866 242.7 C873.5 245.2 876.5 248.4 881 253 C885.5 257.6 890.2 264.2 893 270 C895.8 275.8 897.8 283 898 288 C898.2 293 895.8 298.5 894 300 C892.2 301.5 889.2 299.7 887 297 C884.8 294.3 882.8 288.3 881 284 C879.2 279.7 878.5 274.9 876 271 C873.5 267.1 870.2 263.4 866 260.8 C861.8 258.2 858.5 256.5 851 255.5 C843.5 254.5 830.9 254.6 820.8 254.8 C810.7 255.1 800.6 256.9 790.5 257 C780.4 257.1 767.6 257.4 760 255.5 C752.4 253.6 748 248.3 745 245.7 C742 243.1 737 240.7 742 239.7 Z" fill="#0a0a0a" stroke="none" stroke-width="1" />
<path d="M790 178 C800 178.3 828.3 178.3 850 180 C871.7 181.7 901.3 183 920 188 C938.7 193 951.5 200 962 210 C972.5 220 978.3 234.7 983 248 C987.7 261.3 988.8 283 990 290" fill="none" stroke="#e0e0e0" stroke-width="1.8" />
<path d="M752.8 187.8 C757.5 182 764.1 173.8 770.4 170.2 C776.7 166.6 778 166.6 790.6 166.4 C803.2 166.2 828.4 168.2 846 169 C863.6 169.8 881.8 170 896.5 171.4 C911.2 172.8 923.4 174.1 934.3 177.7 C945.2 181.3 954 186.6 962 192.9 C970 199.2 976.7 207.1 982.2 215.5 C987.7 223.9 991.7 234.1 994.8 243.3 C997.9 252.6 999.6 262.9 1001 271 C1002.4 279.1 1003.8 285.8 1003 292 C1002.2 298.2 1000.7 304 996 308 C991.3 312 983.3 314 975 316 C966.7 318 956 319.7 946 320 C936 320.3 923.5 319.7 915 318 C906.5 316.3 899.7 313.5 895 310 C890.3 306.5 889.3 301.3 887 297 C884.7 292.7 882.8 288.3 881 284 C879.2 279.7 878.5 274.9 876 271 C873.5 267.1 870.2 263.4 866 260.8 C861.8 258.2 858.5 256.5 851 255.5 C843.5 254.5 830.9 254.6 820.8 254.8 C810.7 255.1 800.6 256.9 790.5 257 C780.4 257.1 767.6 257.4 760 255.5 C752.4 253.6 748.5 249.6 745 245.7 C741.5 241.8 740.2 236.3 739 232 C737.8 227.7 737.5 224.5 738 220 C738.5 215.5 739.5 210.4 742 205 C744.5 199.6 748.1 193.6 752.8 187.8 Z" fill="none" stroke="#0a0a0a" stroke-width="3" />
<path d="M1011.4 274 C1010.8 272.7 1009.6 268 1008 266 C1006.4 264 1003 262.7 1002 262" fill="none" stroke="#111" stroke-width="5" />
<path d="M1011.4 274 C1010.8 272.7 1009.6 268 1008 266 C1006.4 264 1003 262.7 1002 262" fill="none" stroke="#e6e6e6" stroke-width="2.5" />
<path d="M878.6 278.6 C880.3 282.2 878.4 295.3 888.6 300 C898.8 304.7 925.8 306.5 940 307 C954.2 307.5 963.5 305.3 974 303 C984.5 300.7 996.8 297.8 1003 293 C1009.2 288.2 1010 277.2 1011.4 274" fill="none" stroke="#111" stroke-width="8.5" />
<path d="M878.6 278.6 C880.3 282.2 878.4 295.3 888.6 300 C898.8 304.7 925.8 306.5 940 307 C954.2 307.5 963.5 305.3 974 303 C984.5 300.7 996.8 297.8 1003 293 C1009.2 288.2 1010 277.2 1011.4 274" fill="none" stroke="#ececec" stroke-width="5.5" />
<path d="M878.6 278.6 C879 277.2 879.8 272.1 881 270 C882.2 267.9 885.2 266.7 886 266" fill="none" stroke="#111" stroke-width="2" />
<rect x="940" y="297" width="11" height="16" fill="#555" stroke="#111" stroke-width="1.2"/>
<path d="M941 301 L950 301 M941 309 L950 309" fill="none" stroke="#ddd" stroke-width="1.5" />
<path d="M1035 192 L1077 158 Q1087 148 1087 162 L1087 500" fill="none" stroke="#0a0a0a" stroke-width="21" stroke-linecap="round" stroke-linejoin="round"/>
<path d="M1035 192 L1077 158 Q1087 148 1087 162 L1087 500" fill="none" stroke="#5e5e5e" stroke-width="15" stroke-linecap="round" stroke-linejoin="round"/>
<path d="M1031 194 L1078 156 Q1084 152 1084 162 L1084 500" fill="none" stroke="#8a8a8a" stroke-width="4" opacity="0.7"/>
<path d="M1024 195 L1072 153 Q1087 143 1092 160 L1092 506 L1080 506 L1080 166 L1032 205 Z" fill="url(#gB)" opacity="0.7"/>
<path d="M1024 195 L1072 153 Q1087 143 1092 160 L1092 506 L1080 506 L1080 166 L1032 205 Z" fill="url(#gW)" opacity="0.5"/>
<path d="M992 232 L1026 206" fill="none" stroke="#0a0a0a" stroke-width="23" stroke-linecap="round"/>
<path d="M993 231 L1025 207" fill="none" stroke="#555" stroke-width="16" stroke-linecap="round"/>
<path d="M986 226 L1020 200 L1031 212 L998 238 Z" fill="url(#gB)" opacity="0.7"/>
<path d="M986 226 L1020 200 L1031 212 L998 238 Z" fill="url(#gW)" opacity="0.5"/>
<path d="M1012 190 C1010.3 191.2 1004 193.7 1002 197 C1000 200.3 999.2 206.2 1000 210 C1000.8 213.8 1005.8 218.3 1007 220" fill="none" stroke="#222" stroke-width="1.5" />
<path d="M1018 186 C1020 185.7 1027 183.3 1030 184 C1033 184.7 1035 189 1036 190" fill="none" stroke="#222" stroke-width="1.5" />
<path d="M1040 215 C1040.5 216.2 1043.3 219.8 1043 222 C1042.7 224.2 1040.2 227.3 1038 228 C1035.8 228.7 1031.3 226.3 1030 226" fill="none" stroke="#222" stroke-width="1.5" />
<g transform="translate(991.5 157) rotate(-47)"><rect x="-18" y="-7.5" width="36" height="15" rx="3" fill="#e8e8e8" stroke="#111" stroke-width="1.8"/><rect x="-12" y="1.5" width="28" height="3" fill="#555"/><ellipse cx="-18" cy="0" rx="4.5" ry="7.5" fill="#f4f4f4" stroke="#111" stroke-width="1.8"/><ellipse cx="-18" cy="0" rx="2.5" ry="4.2" fill="#222"/><ellipse cx="-17.5" cy="0" rx="1.2" ry="2.5" fill="#ddd"/></g>
<path d="M1073 360 C1075.2 358 1081.7 357.8 1086 358 C1090.3 358.2 1096.8 359 1099 361 C1101.2 363 1101.2 368.2 1099 370 C1096.8 371.8 1090.3 372 1086 372 C1081.7 372 1075.2 372 1073 370 C1070.8 368 1070.8 362 1073 360 Z" fill="#eeeeee" stroke="#111" stroke-width="1.4" />
<path d="M1098 360 C1100.2 357 1108 353 1112 352 C1116 351 1120 352.3 1122 354 C1124 355.7 1124.7 359.7 1124 362 C1123.3 364.3 1122.2 366.7 1118 368 C1113.8 369.3 1102.3 371.3 1099 370 C1095.7 368.7 1095.8 363 1098 360 Z" fill="#f4f4f4" stroke="#111" stroke-width="1.4" />
<circle cx="1116" cy="360.5" r="3.2" fill="#fff" stroke="#111" stroke-width="1.4"/>
<ellipse cx="712.5" cy="528" rx="38" ry="15.5" fill="none" stroke="#111" stroke-width="3.5"/>
<ellipse cx="712.5" cy="533" rx="35" ry="10" fill="none" stroke="#333" stroke-width="2"/>
<path d="M662 479 L706 491" fill="none" stroke="#0a0a0a" stroke-width="15" stroke-linecap="round"/>
<path d="M662 479 L706 491" fill="none" stroke="#4a4a4a" stroke-width="10" stroke-linecap="round"/>
<path d="M683 534 C678.3 529.7 679.8 520.2 681 514 C682.2 507.8 685.5 501.5 690 497 C694.5 492.5 702 487.8 708 487 C714 486.2 721.5 488.5 726 492 C730.5 495.5 733.5 501.2 735 508 C736.5 514.8 739.3 527.7 735 533 C730.7 538.3 717.7 539.8 709 540 C700.3 540.2 687.7 538.3 683 534 Z" fill="#4e4e4e" stroke="#0a0a0a" stroke-width="2" />
<path d="M702 502 C703.7 498.2 710.3 497 714 498 C717.7 499 722.3 503.3 724 508 C725.7 512.7 725.8 522 724 526 C722.2 530 716.3 532.8 713 532 C709.7 531.2 705.8 526 704 521 C702.2 516 700.3 505.8 702 502 Z" fill="#8a8a8a" stroke="none" stroke-width="1" opacity="0.75"/>
<path d="M683 534 C678.3 529.7 679.8 520.2 681 514 C682.2 507.8 685.5 501.5 690 497 C694.5 492.5 702 487.8 708 487 C714 486.2 721.5 488.5 726 492 C730.5 495.5 733.5 501.2 735 508 C736.5 514.8 739.3 527.7 735 533 C730.7 538.3 717.7 539.8 709 540 C700.3 540.2 687.7 538.3 683 534 Z" fill="url(#gB)" opacity="0.7"/>
<path d="M683 534 C678.3 529.7 679.8 520.2 681 514 C682.2 507.8 685.5 501.5 690 497 C694.5 492.5 702 487.8 708 487 C714 486.2 721.5 488.5 726 492 C730.5 495.5 733.5 501.2 735 508 C736.5 514.8 739.3 527.7 735 533 C730.7 538.3 717.7 539.8 709 540 C700.3 540.2 687.7 538.3 683 534 Z" fill="url(#gW)" opacity="0.5"/>
<path d="M663.3 474.2 L707.3 486.2 L704.7 495.8 L660.7 483.8 Z" fill="url(#gB)" opacity="0.7"/>
<path d="M663.3 474.2 L707.3 486.2 L704.7 495.8 L660.7 483.8 Z" fill="url(#gW)" opacity="0.5"/>
<path d="M674.5 528 A38 15.5 0 0 0 750.5 528" fill="none" stroke="#111" stroke-width="3.5" />
<path d="M666 517 C666.2 519.2 666.7 526.2 667 530 C667.3 533.8 667.5 537.3 668 540 C668.5 542.7 669.7 545 670 546" fill="none" stroke="#222" stroke-width="2.5" />
<path d="M665 524 L672 522 L673.6 534 L666 536 Z" fill="#bbb" stroke="#222" stroke-width="1.2" />
<path d="M622 522 L622 530 L628 533.3 L640 533 L645.8 529 L645.8 521 L640 526 L628 527 Z" fill="#f4f4f4" stroke="#0a0a0a" stroke-width="1.8" />
<path d="M640 526 L645.8 521 L645.8 529 L640 533 Z" fill="#111" stroke="none" stroke-width="1" />
<path d="M622 522 L626 518 L632 516 L641 516.5 L645.8 521 L640 526 L628 527 Z" fill="#f0f0f0" stroke="#0a0a0a" stroke-width="1.8" />
<ellipse cx="635" cy="520.5" rx="7" ry="3.3" fill="#222"/>
<ellipse cx="634" cy="520" rx="3" ry="1.3" fill="#777"/>
<path d="M628 527 L628 533 M633 527.5 L633.5 535" fill="none" stroke="#111" stroke-width="1.3" />
<path d="M623.5 630.5 L623.5 639 C624 642 630 643.5 635.5 643.5 C641 643.5 647 642 647.5 639 L647.5 630.5 Z" fill="#f2f2f2" stroke="#0a0a0a" stroke-width="2" />
<line x1="626" y1="634" x2="626" y2="641" stroke="#222" stroke-width="1.4"/>
<line x1="628.5" y1="634" x2="628.5" y2="641" stroke="#222" stroke-width="1.4"/>
<line x1="642" y1="634" x2="642" y2="641" stroke="#222" stroke-width="1.4"/>
<line x1="644.5" y1="634" x2="644.5" y2="641" stroke="#222" stroke-width="1.4"/>
<ellipse cx="635.5" cy="630.5" rx="12" ry="5.2" fill="#f6f6f6" stroke="#0a0a0a" stroke-width="2"/>
<ellipse cx="635.5" cy="630.5" rx="6.5" ry="3" fill="#111"/>
<path d="M516 487.8 C517.7 488.2 523.8 488.6 526 490 C528.2 491.4 528.2 490.7 529 496.5 C529.8 502.3 530.2 516.8 531 525 C531.8 533.2 532 541.2 533.5 546 C535 550.8 536.9 552.2 540 554 C543.1 555.8 550 556.5 552 557 L576 544.3 L576 544.3 C579.3 545.7 591.1 549.3 596 552.7 C600.9 556.1 604.2 560.8 605.5 564.7 C606.8 568.6 603.8 574.1 603.5 576 L602.7 591.6 L604 640 L603.4 672 C602.8 674.2 602.1 681.2 600 685 C597.9 688.8 592.5 692.9 591 694.5 L555 720 L555 720 C555 721.2 555.3 724.7 555 727 C554.7 729.3 553.7 732.8 553.4 734 L536.8 749 L530.8 721.7 L508 693 L506.6 694.5 C506.4 697.9 505.8 708.8 505.5 715 C505.2 721.2 505.1 729.2 505 732 L481 758 L480 756 C478.7 756.8 475 760.7 472 761 C469 761.3 463.5 759.7 462 758 C460.5 756.3 461.8 752.3 463 751 C464.2 749.7 468 750.2 469 750 L469 750 C467.8 743.7 464.8 725.3 462 712 C459.2 698.7 453.7 677 452 670 L452 670 C451 668.3 446.5 663 446 660 C445.5 657 447.4 656.2 449 652 C450.6 647.8 455.7 642 455.7 634.8 C455.7 627.6 451.6 615.6 449 609 C446.4 602.4 444.3 598.7 440 595 C435.7 591.3 428.7 588.7 423 587 C417.3 585.3 410 585.7 406 585 C402 584.3 400.8 584.5 399 583 C397.2 581.5 395.3 578.2 395 576 C394.7 573.8 395.2 571.4 397 570 C398.8 568.6 400.5 567.6 406 567.8 C411.5 568 422.1 569.6 430 571 C437.9 572.4 446 574.7 453.5 576.4 C461 578.1 469.1 579.1 475 581 C480.9 582.9 485.2 587.5 489 588 C492.8 588.5 496.2 587 498 584 C499.8 581 499.7 572.3 500 570 L500 570 C499.8 565 498.8 552.2 499 540 C499.2 527.8 500 505 501 496.5 C502 488 502.5 490.4 505 489 C507.5 487.6 514.2 488 516 487.8 Z" fill="#fbfbfb" stroke="#111" stroke-width="1.6" />
<ellipse cx="515.5" cy="494.5" rx="5" ry="3" fill="none" stroke="#111" stroke-width="1.4"/>
<ellipse cx="407" cy="576" rx="5" ry="3.2" fill="none" stroke="#111" stroke-width="1.4"/>
<ellipse cx="589" cy="565" rx="8.5" ry="4" transform="rotate(-15 589 565)" fill="none" stroke="#111" stroke-width="1.4"/>
<path d="M521.8 593.3 L491.2 672.9 L481 669 L512 594 Z" fill="url(#hat)" stroke="none" stroke-width="1" opacity="0.9"/>
<path d="M526 590 L603 576 L600 584 L534 600 Z" fill="url(#hat)" stroke="none" stroke-width="1" opacity="0.8"/>
<path d="M456 671 L491 675 L505 688 L480 682 L460 677 Z" fill="url(#hat)" stroke="none" stroke-width="1" opacity="0.7"/>
<path d="M449 652 L561.6 555 M455 655 L565 559" fill="none" stroke="#111" stroke-width="1.3" />
<path d="M603.5 576 L526 590 L521.8 593.3 L491.2 672.9" fill="none" stroke="#111" stroke-width="1.4" />
<path d="M452 668 C462 673 480 675 491.2 675.5 L507 694" fill="none" stroke="#111" stroke-width="1.4" />
<path d="M491.2 675.5 L602.7 608" fill="none" stroke="#111" stroke-width="1.1" />
<path d="M493 678 L519 663" fill="none" stroke="#111" stroke-width="1.1" />
<path d="M600 584 L602.7 591.6" fill="none" stroke="#111" stroke-width="1.1" />
<path d="M519 663 L560 640 L603 617" fill="none" stroke="#111" stroke-width="1.0" />
<path d="M552 706.6 L591 684 L603.4 672" fill="none" stroke="#111" stroke-width="1.0" />
<path d="M519 663 L552 706.6 L530.8 721.7 M552 706.6 L555 720" fill="none" stroke="#111" stroke-width="1.1" />
<path d="M575 600 L580 650 L582 668" fill="none" stroke="#777" stroke-width="1" stroke-dasharray="2 2"/>
<path d="M540 632 L575 615" fill="none" stroke="#888" stroke-width="1" stroke-dasharray="2 2"/>
<path d="M913 553 C918 549 926 551 935 554 L979 568 C985 570 987 574 988 579 L992 604 C993 611 987 614 980 612 L922 596 C916 594 914 590 914 585 L910 560 C910 556 911 554 913 553 Z" fill="#333333" stroke="#0a0a0a" stroke-width="2" />
<path d="M913 553 C918 549 926 551 935 554 L979 568 C985 570 987 574 988 579 L992 604 C993 611 987 614 980 612 L922 596 C916 594 914 590 914 585 L910 560 C910 556 911 554 913 553 Z" fill="url(#gB)" opacity="0.6"/>
<path d="M913 553 C918 549 926 551 935 554 L979 568 C985 570 987 574 988 579 L992 604 C993 611 987 614 980 612 L922 596 C916 594 914 590 914 585 L910 560 C910 556 911 554 913 553 Z" fill="url(#gW)" opacity="0.18"/>
<ellipse cx="950" cy="583.5" rx="20" ry="10" fill="#fdfdfd" stroke="#111" stroke-width="1.3"/>
<ellipse cx="923" cy="562.5" rx="3" ry="2" fill="#fdfdfd"/>
<ellipse cx="979" cy="601" rx="3" ry="2" fill="#fdfdfd"/>
<circle cx="832" cy="687.5" r="13" fill="none" stroke="#2a2a2a" stroke-width="1.2" stroke-dasharray="3 2"/>
<circle cx="832" cy="687.5" r="6" fill="none" stroke="#2a2a2a" stroke-width="1.2"/>
<circle cx="973" cy="642" r="12" fill="none" stroke="#2a2a2a" stroke-width="1.2" stroke-dasharray="3 2"/>
<circle cx="973" cy="642" r="5.5" fill="none" stroke="#2a2a2a" stroke-width="1.2"/>
<circle cx="834" cy="780" r="13" fill="none" stroke="#2a2a2a" stroke-width="1.2" stroke-dasharray="3 2"/>
<circle cx="834" cy="780" r="5.5" fill="none" stroke="#2a2a2a" stroke-width="1.2"/>
<path d="M821 674 L966 625 L976 630" fill="none" stroke="#2a2a2a" stroke-width="1.2" stroke-dasharray="4 2.5"/>
<path d="M843 676 L973 633" fill="none" stroke="#2a2a2a" stroke-width="1.2" stroke-dasharray="4 2.5"/>
<path d="M912 658 L982 667 L992 706 L915 686 Z" fill="none" stroke="#2a2a2a" stroke-width="1.2" stroke-dasharray="4 2.5"/>
<ellipse cx="953" cy="679.5" rx="21" ry="12" fill="none" stroke="#2a2a2a" stroke-width="1.2"/>
<path d="M922 633 L922 662 M931 633 L931 662" fill="none" stroke="#2a2a2a" stroke-width="1.2" />
<ellipse cx="926.5" cy="633" rx="4.5" ry="2.5" fill="none" stroke="#2a2a2a" stroke-width="1.2"/>
<path d="M976 674 L976 701 M985 674 L985 701" fill="none" stroke="#2a2a2a" stroke-width="1.2" />
<ellipse cx="980.5" cy="674" rx="4.5" ry="2.5" fill="none" stroke="#2a2a2a" stroke-width="1.2"/>
<path d="M822 697 L822 770 M829 700 L829 768" fill="none" stroke="#2a2a2a" stroke-width="1.2" stroke-dasharray="4 2.5"/>
<path d="M994 712 L996 752 Q995 765 985 767 L942 768" fill="none" stroke="#2a2a2a" stroke-width="1.2" stroke-dasharray="4 2.5"/>
<path d="M834 793 L940 764 M843 770 L890 758" fill="none" stroke="#2a2a2a" stroke-width="1.2" stroke-dasharray="4 2.5"/>
<path d="M900 745 L940 735 L942 760 L905 770 Z" fill="none" stroke="#2a2a2a" stroke-width="1.2" stroke-dasharray="4 2.5"/>
<ellipse cx="893" cy="761" rx="5" ry="8" fill="none" stroke="#2a2a2a" stroke-width="1.2" stroke-dasharray="3 2"/>
<path d="M852 675 Q845 690 848 700 M870 668 L900 680 M905 700 L990 712" fill="none" stroke="#2a2a2a" stroke-width="1.1" stroke-dasharray="4 2.5"/>
<path d="M455 428 L558 453" fill="none" stroke="#0a0a0a" stroke-width="8.5" stroke-linecap="round"/>
<path d="M455 428 L558 453" fill="none" stroke="#d4d4d4" stroke-width="5" stroke-linecap="round"/>
<path d="M449 426.5 L460 425 L459 432 Z" fill="#222" stroke="none" stroke-width="1" />
<ellipse cx="556" cy="452" rx="3.5" ry="4.5" fill="#333"/>
<ellipse cx="317.5" cy="263.5" rx="5" ry="4" transform="rotate(-25 317.5 263.5)" fill="none" stroke="#222" stroke-width="1.8"/>
<path d="M313 266 C312 267 307.8 268.5 307 272 C306.2 275.5 307.2 282.3 308 287 C308.8 291.7 310.7 294.8 312 300 C313.3 305.2 316.2 313.7 316 318 C315.8 322.3 311.8 324.7 311 326" fill="none" stroke="#222" stroke-width="2" />
<path d="M313 290 L322 292 L322 312 L314 318 Z" fill="#ddd" stroke="#222" stroke-width="1.3" />
<ellipse cx="581" cy="401" rx="8" ry="13" transform="rotate(-10 581 401)" fill="none" stroke="#222" stroke-width="2.4"/>
<path d="M584 374 L596 371 L599 394 L595 404 L589 400 L587 385 Z" fill="#e4e4e4" stroke="#222" stroke-width="1.3" />
<circle cx="592" cy="378" r="2.5" fill="#fff" stroke="#222" stroke-width="1"/>
<path d="M729.2 685.1 C731.9 683 738.3 677.4 745.2 672.5 C752.1 667.6 762 660.7 770.4 655.7 C778.8 650.7 787.2 646.2 795.6 642.3 C804 638.4 813.8 635.3 820.8 632.2 C827.8 629.1 830.6 627.7 837.6 623.8 C844.6 619.9 854.5 613.5 862.9 608.7 C871.3 603.9 881.3 599.1 888 595.2 C894.7 591.3 900.7 586.8 903.2 585.1" fill="none" stroke="#0c4ec6" stroke-width="6.8" stroke-linecap="round" stroke-linejoin="round"/>
<path d="M849.4 587.6 L911.6 584.3" fill="none" stroke="#0c4ec6" stroke-width="6.8" stroke-linecap="round"/>
<path d="M875.5 634.7 C877.1 631.6 881.9 622 885 616 C888.1 610 891 604.4 894 599 C897 593.6 901.7 586 903.2 583.4" fill="none" stroke="#0c4ec6" stroke-width="6.8" stroke-linecap="round"/>
<path d="M195 332 L230 332 L339 205" fill="none" stroke="#222" stroke-width="1.1" />
<path d="M230 332 L338 352" fill="none" stroke="#222" stroke-width="1.1" />
<path d="M704 366 L680 353 L648 330" fill="none" stroke="#222" stroke-width="1.1" />
<path d="M794 84 L799 84 L834 174" fill="none" stroke="#222" stroke-width="1.1" />
<path d="M985 84 L990 84 L996 142" fill="none" stroke="#222" stroke-width="1.1" />
<path d="M1110 80 L1114 80 L1088 146" fill="none" stroke="#222" stroke-width="1.1" />
<path d="M1076 110 L1080 110 L1018 185" fill="none" stroke="#222" stroke-width="1.1" />
<path d="M830 303 L883 294" fill="none" stroke="#222" stroke-width="1.1" />
<path d="M1065 257 L1068 257 L1075 357" fill="none" stroke="#222" stroke-width="1.1" />
<path d="M698.7 432.5 L708.6 432.5 L707.4 487" fill="none" stroke="#222" stroke-width="1.1" />
<path d="M757.7 495 L753.7 495 L736 518" fill="none" stroke="#222" stroke-width="1.1" />
<path d="M593.8 495 L600.5 495 L624 516" fill="none" stroke="#222" stroke-width="1.1" />
<path d="M361 633 L372 633 L455 613" fill="none" stroke="#222" stroke-width="1.1" />
<path d="M626 734.4 L634.8 734.4 L634.8 645" fill="none" stroke="#222" stroke-width="1.1" />
<path d="M880 563 L912 568" fill="none" stroke="#222" stroke-width="1.1" />
<text x="724.4" y="89.4" font-size="17.5" textLength="67.2" lengthAdjust="spacingAndGlyphs">DV 171-3</text>
<text x="918" y="88.8" font-size="15" textLength="65.0" lengthAdjust="spacing">N132-69</text>
<text x="1040.5" y="84.3" font-size="14.5" textLength="68.5" lengthAdjust="spacing">DY132-76</text>
<text x="1022.5" y="116.4" font-size="15" textLength="51.5" lengthAdjust="spacing">2854S</text>
<text x="1007.3" y="262.2" font-size="15" textLength="56.2" lengthAdjust="spacingAndGlyphs">DY132-83</text>
<text x="775.2" y="308.4" font-size="15.5" textLength="51.8" lengthAdjust="spacing">2884S</text>
<text x="708.7" y="370.3" font-size="15.5" textLength="60.0" lengthAdjust="spacingAndGlyphs">DX171-5</text>
<text x="136" y="330.3" font-size="14.5" textLength="54.6" lengthAdjust="spacingAndGlyphs">DX171-0</text>
<text x="136" y="346" font-size="14.5" textLength="66.7" lengthAdjust="spacing">DX171-0a</text>
<text x="636" y="438.8" font-size="15" textLength="59.5" lengthAdjust="spacing">N132-48</text>
<text x="758.5" y="501.7" font-size="15" textLength="53.5" lengthAdjust="spacing">602009</text>
<text x="550" y="501" font-size="15.5" textLength="41.3" lengthAdjust="spacingAndGlyphs">2491-S</text>
<text x="285" y="637.3" font-size="15.8" textLength="73.2" lengthAdjust="spacingAndGlyphs">DV 171-40</text>
<text x="565.5" y="739.8" font-size="15.8" textLength="59.2" lengthAdjust="spacingAndGlyphs">DX171-80</text>
<text x="826" y="567.5" font-size="14.5" textLength="51.7" lengthAdjust="spacingAndGlyphs">N142-98</text>
</svg>
</body></html>
